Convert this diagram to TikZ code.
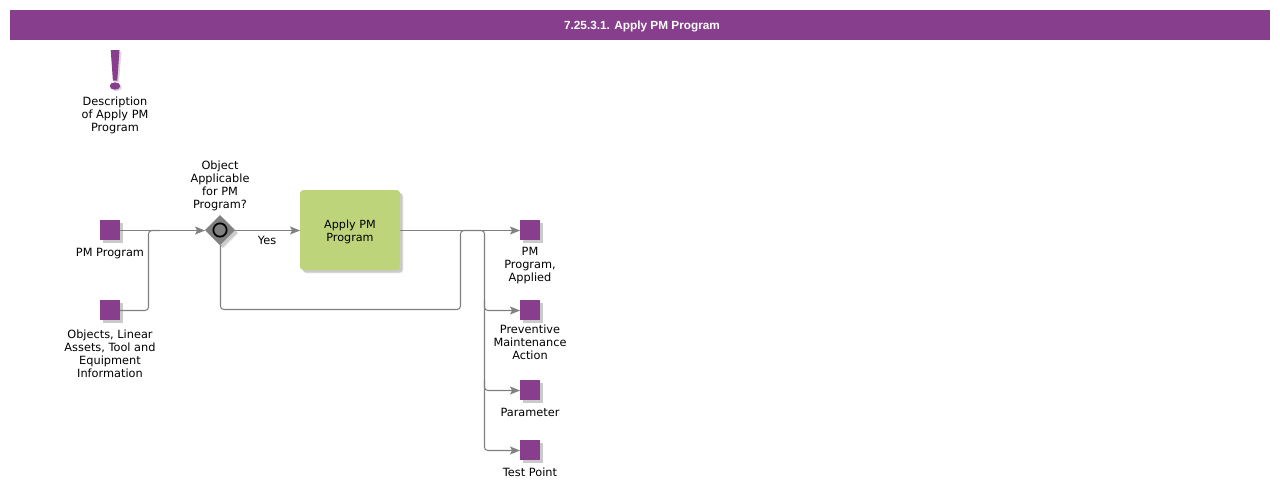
\documentclass[tikz,border=0pt]{standalone}
\usepackage{fontspec}
\setmainfont{DejaVu Sans}
\newfontfamily\titlefont{Liberation Sans}
\usetikzlibrary{arrows.meta,shapes.geometric,shadows}
\definecolor{bpurple}{HTML}{873E8C}
\definecolor{bgreen}{HTML}{BDD47A}
\definecolor{bline}{HTML}{808080}
\tikzset{
  softshadow/.style={general shadow={shadow xshift=2.6pt,shadow yshift=-2.6pt,fill=black,opacity=.08},
    general shadow={shadow xshift=1.9pt,shadow yshift=-1.9pt,fill=black,opacity=.14}},
  datasq/.style={rectangle,fill=bpurple,minimum size=15pt,inner sep=0pt,outer sep=0pt,softshadow},
  taskbox/.style={rectangle,rounded corners=2.5pt,fill=bgreen,minimum width=75pt,minimum height=60pt,inner sep=0pt,outer sep=0pt,softshadow,align=center,font=\fontsize{8.4pt}{9.75pt}\selectfont,text=black},
  gatew/.style={diamond,aspect=1,fill=bline,minimum width=22.5pt,minimum height=22.5pt,inner sep=0pt,outer sep=0pt,softshadow},
  ring/.style={circle,draw=black,line width=1.3pt,fill=bline,minimum size=10pt,inner sep=0pt},
  lbl/.style={anchor=north,align=center,inner sep=0pt,font=\fontsize{8.5pt}{9.75pt}\selectfont,text=black},
  conn/.style={draw=bline,line width=.8pt,rounded corners=2.5pt},
  arr/.style={conn,-{Stealth[length=7.5pt,width=6pt,inset=1.6pt,bline]}},
  titlebar/.style={rectangle,fill=bpurple,minimum width=945pt,minimum height=22.5pt,inner sep=0pt,outer sep=0pt,text=white,font=\titlefont\bfseries\fontsize{8.85pt}{11pt}\selectfont}
}
\begin{document}
\begin{tikzpicture}[x=0.75pt,y=-0.75pt]
\useasboundingbox (0,0) rectangle (1280,490);
\node[titlebar] (title) at (640,25) {\rule{0pt}{8.2pt}\hspace*{3pt}7.25.3.1. Apply PM Program};
% exclamation
\fill[black,opacity=.15] (112.5,51.5) -- (121.5,51.5) -- (119,82) -- (114.5,82) -- cycle;
\fill[black,opacity=.15] (116.5,87.5) ellipse (5.3 and 3.7);
\fill[bpurple] (110.7,50) -- (119.5,50) -- (117.3,80.5) -- (112.9,80.5) -- cycle;
\fill[bpurple] (115,86) ellipse (5.3 and 3.7);
\node[lbl] (desc) at (115,96) {\strut Description\\of Apply PM\\Program};

\node[datasq] (pm) at (110,230) {};
\node[lbl] (pml) at (110,247) {\strut PM Program};
\node[datasq] (obj) at (110,310) {};
\node[lbl] (objl) at (110,329) {\strut Objects, Linear\\Assets, Tool and\\Equipment\\Information};
\node[gatew] (gw) at (220,230) {};
\node[ring] (gwr) at (220,230) {};
\node[lbl] (gwl) at (220,160) {\strut Object\\Applicable\\for PM\\Program?};
\node[taskbox] (task) at (350,230) {\rule{0pt}{9.3pt}Apply PM\\Program};
\node[lbl] (yes) at (267,235) {\strut Yes};
\node[datasq] (o1) at (530,230) {};
\node[lbl] (o1l) at (530,246) {\strut PM\\Program,\\Applied};
\node[datasq] (o2) at (530,310) {};
\node[lbl] (o2l) at (530,324) {\strut Preventive\\Maintenance\\Action};
\node[datasq] (o3) at (530,390) {};
\node[lbl] (o3l) at (530,407) {\strut Parameter};
\node[datasq] (o4) at (530,450) {};
\node[lbl] (o4l) at (530,467) {\strut Test Point};

\coordinate (j1) at (148.5,230.5);
\coordinate (j2) at (460.5,230.5);
\coordinate (j3) at (484.5,230.5);
\coordinate (c1) at (220.5,309.5);
\coordinate (c2) at (460.5,309.5);

\draw[arr] (pm.east |- j1) -- ([yshift=-.375pt]gw.west);
\draw[conn] (obj.east |- 0,310.5) -- (148.5,310.5) -- (j1) -- (160,230.5);
\draw[arr] ([yshift=-.375pt]gw.east) -- (task.west |- j1);
\draw[conn] ([xshift=.375pt]gw.south) -- (c1) -- (c2) -- (j2) -- (472,230.5);
\draw[arr] (task.east |- j3) -- (o1.west |- j3);
\draw[arr] (472,230.5) -- (j3) -- (484.5,310.5) -- (o2.west |- 0,310.5);
\draw[arr] (484.5,300) -- (484.5,390.5) -- (o3.west |- 0,390.5);
\draw[arr] (484.5,380) -- (484.5,450.5) -- (o4.west |- 0,450.5);
\end{tikzpicture}
\end{document}
